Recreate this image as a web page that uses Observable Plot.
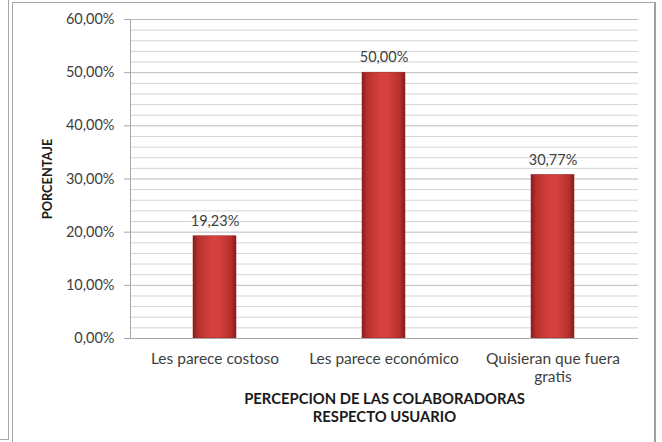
<!DOCTYPE html>
<html>
<head>
<meta charset="utf-8">
<script src="https://cdn.jsdelivr.net/npm/d3@7"></script>
<script src="https://cdn.jsdelivr.net/npm/@observablehq/plot@0.6"></script>
<style>
  html, body { margin: 0; padding: 0; background: #fff; }
  #wrap { position: relative; width: 662px; height: 442px; overflow: hidden; font-family: Lato, "Open Sans", sans-serif; }
  .b { position: absolute; pointer-events: none; }
</style>
</head>
<body>
<div id="wrap">
  <div id="chart"></div>
  <div class="b" style="left:0;top:-2px;width:9px;height:442px;border-right:1px solid #a8a8a8;border-bottom:1px solid #a8a8a8;box-sizing:border-box;"></div>
  <div class="b" style="left:12px;top:2px;width:644px;height:460px;border:1px solid #a8a8a8;border-right:2px solid #a0a0a0;box-sizing:border-box;"></div>
</div>
<script>
const categories = ["Les parece costoso", "Les parece económico", "Quisieran que fuera gratis"];
const tickLabels = ["Les parece costoso", "Les parece económico", "Quisieran que fuera\ngratis"];
const values = [19.23, 50.00, 30.77];
const yTicks = [0, 10, 20, 30, 40, 50, 60];
const minorTicks = [2, 4, 6, 8, 12, 14, 16, 18, 22, 24, 26, 28, 32, 34, 36, 38, 42, 44, 46, 48, 52, 54, 56, 58];
const xTitle = "PERCEPCION DE LAS COLABORADORAS\nRESPECTO USUARIO";
const yTitle = "PORCENTAJE";

const data = categories.map((c, i) => ({cat: c, v: values[i]}));
const fmt = v => v.toFixed(2).replace(".", ",") + "%";

const chart = Plot.plot({
  width: 662,
  height: 442,
  marginLeft: 130,
  marginRight: 24,
  marginTop: 19,
  marginBottom: 104,
  style: {fontFamily: "Lato, 'Open Sans', sans-serif", fontSize: "14px", color: "#404040", background: "transparent"},
  x: {domain: categories, paddingInner: 0.745, paddingOuter: 0.3725, label: null},
  y: {domain: [0, 60], label: null},
  marks: [
    Plot.ruleY(minorTicks, {stroke: "#d4d4d4", strokeWidth: 1}),
    Plot.ruleY(yTicks.filter(d => d > 0), {stroke: "#bdbdbd", strokeWidth: 1}),
    Plot.barY(data, {x: "cat", y: "v", fill: "url(#barGrad)", stroke: "#8a1f1f", strokeWidth: 0.5}),
    Plot.ruleY([0], {stroke: "#a6a6a6", strokeWidth: 1}),
    Plot.axisY({ticks: yTicks, tickFormat: fmt, tickSize: 6, tickPadding: 10, stroke: "#a6a6a6", fill: "#404040", fontSize: 14.5,
      label: yTitle, labelAnchor: "center", labelArrow: "none", labelOffset: 88}),
    Plot.axisX({tickSize: 0, tickPadding: 13, tickFormat: d => tickLabels[categories.indexOf(d)], fill: "#404040", fontSize: 15.5, lineHeight: 1.14}),
    Plot.text(data, {x: "cat", y: "v", text: d => fmt(d.v), dy: -15, fill: "#404040", fontSize: 14.5}),
    Plot.text([xTitle], {frameAnchor: "bottom", dy: 52, fontWeight: "bold", fontSize: 14.8, fill: "#1a1a1a", lineHeight: 1.24, lineAnchor: "top"})
  ]
});

// gradient definition
const svg = d3.select(chart);
const defs = svg.insert("defs", ":first-child");
const g = defs.append("linearGradient").attr("id", "barGrad").attr("x1", "0").attr("x2", "1").attr("y1", "0").attr("y2", "0");
[[0, "#8c1d1d"], [0.12, "#b8302d"], [0.45, "#d8423e"], [0.6, "#d6413d"], [0.88, "#b52f2c"], [1, "#8a1c1c"]]
  .forEach(([o, c]) => g.append("stop").attr("offset", o).attr("stop-color", c));

// y-axis label styling
svg.selectAll('g[aria-label="y-axis label"]').attr("font-weight", "bold").attr("font-size", 12.8).attr("fill", "#1a1a1a");

// vertical y axis line
const ys = chart.scale("y");
svg.append("line").attr("x1", 130.5).attr("x2", 130.5).attr("y1", ys.apply(60)).attr("y2", ys.apply(0)).attr("stroke", "#a6a6a6");

document.getElementById("chart").appendChild(chart);
</script>
</body>
</html>
